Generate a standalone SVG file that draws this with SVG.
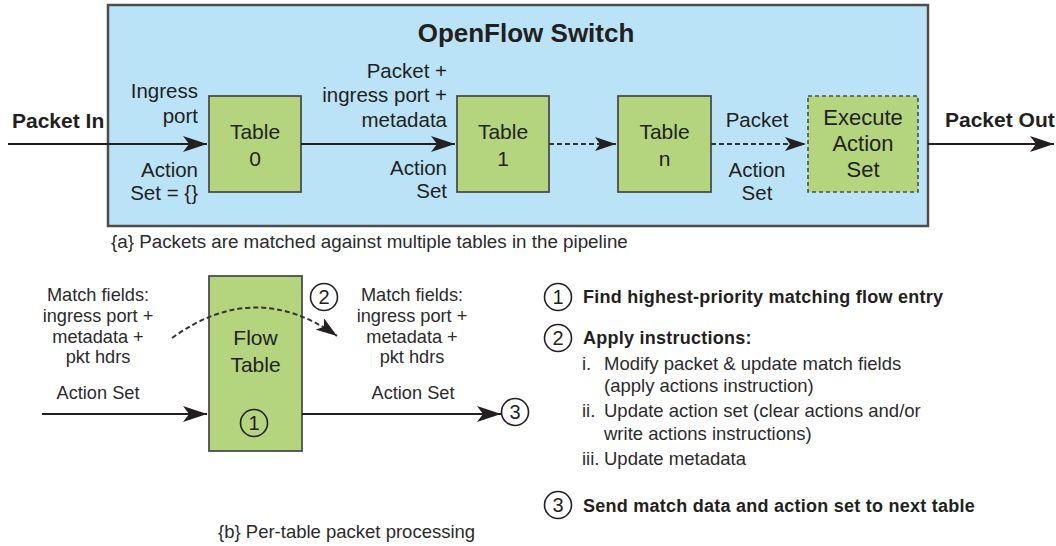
<svg xmlns="http://www.w3.org/2000/svg" width="1056" height="546" viewBox="0 0 1056 546">
  <style>
    text { font-family: "Liberation Sans", Arial, Helvetica, sans-serif; fill: #231f20; }
    .lblr { font-size: 20.5px; text-anchor: end; }
    .lblc { font-size: 20.5px; text-anchor: middle; }
    .big { font-size: 21px; font-weight: bold; }
    .title { font-size: 26px; font-weight: bold; text-anchor: middle; }
    .tbl { font-size: 21px; text-anchor: middle; }
    .cap { font-size: 18.8px; fill: #2b2b2b; }
    .b { font-size: 18.5px; fill: #2b2b2b; }
    .bc { font-size: 18.2px; fill: #2b2b2b; text-anchor: middle; }
    .bold { font-size: 18px; font-weight: bold; fill: #231f20; letter-spacing: 0.25px; }
    .num { font-size: 20px; text-anchor: middle; fill: #231f20; }
    .green { fill: #b4d47d; stroke: #4d4d4d; stroke-width: 1.8; }
    .conn { fill: none; stroke: #231f20; stroke-width: 2.2; }
    .dash { fill: none; stroke: #333; stroke-width: 2; stroke-dasharray: 5 3; }
    .circ { fill: none; stroke: #231f20; stroke-width: 1.6; }
  </style>
  <defs>
    <marker id="ah" markerUnits="userSpaceOnUse" markerWidth="24" markerHeight="16" refX="24" refY="8" orient="auto">
      <path d="M0,0 L24,8 L0,16 L6,8 z" fill="#231f20"/>
    </marker>
    <marker id="ahs" markerUnits="userSpaceOnUse" markerWidth="21" markerHeight="14" refX="21" refY="7" orient="auto">
      <path d="M0,0 L21,7 L0,14 L5,7 z" fill="#231f20"/>
    </marker>
  </defs>

  <g id="switch">
    <rect x="108" y="5" width="820" height="221" fill="#bae3f7" stroke="#4d4d4d" stroke-width="2.5"/>
    <text class="title" x="526" y="42">OpenFlow Switch</text>
  </g>

  <g id="table0">
    <rect class="green" x="209" y="96" width="92" height="96"/>
    <text class="tbl" x="255" y="139">Table</text>
    <text class="tbl" x="255" y="166">0</text>
  </g>
  <g id="table1">
    <rect class="green" x="457" y="96" width="92" height="96"/>
    <text class="tbl" x="503" y="139">Table</text>
    <text class="tbl" x="503" y="166">1</text>
  </g>
  <g id="tablen">
    <rect class="green" x="618" y="96" width="93" height="96"/>
    <text class="tbl" x="664.5" y="139">Table</text>
    <text class="tbl" x="664.5" y="166">n</text>
  </g>
  <g id="execute">
    <rect x="808" y="96" width="110" height="96" fill="#b4d47d" stroke="#4d4d4d" stroke-width="1.6" stroke-dasharray="4 3"/>
    <text class="tbl" x="863" y="125" style="font-size:22px">Execute</text>
    <text class="tbl" x="863" y="151" style="font-size:22px">Action</text>
    <text class="tbl" x="863" y="177" style="font-size:22px">Set</text>
  </g>

  <g id="flowtable">
    <rect class="green" x="209" y="276" width="93" height="175"/>
    <text class="tbl" x="255.5" y="345">Flow</text>
    <text class="tbl" x="255.5" y="372">Table</text>
    <circle class="circ" cx="254" cy="423" r="13.5"/>
    <text class="num" x="254" y="430">1</text>
  </g>

  <g id="connectors">
    <line class="conn" x1="8" y1="144" x2="207" y2="144" marker-end="url(#ah)"/>
    <line class="conn" x1="301" y1="144" x2="455" y2="144" marker-end="url(#ah)"/>
    <line class="dash" x1="549" y1="144" x2="616" y2="144" marker-end="url(#ahs)"/>
    <line class="dash" x1="711" y1="144" x2="806" y2="144" marker-end="url(#ahs)"/>
    <line class="conn" x1="928" y1="144" x2="1054" y2="144" marker-end="url(#ah)"/>
    <line class="conn" x1="42" y1="414" x2="207" y2="414" marker-end="url(#ah)"/>
    <line class="conn" x1="302" y1="414" x2="501" y2="414" marker-end="url(#ah)"/>
    <path class="dash" d="M172,338 Q255,278 337,336" marker-end="url(#ahs)"/>
  </g>

  <g id="labels-a">
    <text class="big" x="12" y="128">Packet In</text>
    <text class="big" x="945" y="127">Packet Out</text>
    <text class="lblr" x="198" y="98">Ingress</text>
    <text class="lblr" x="198" y="123">port</text>
    <text class="lblr" x="198" y="177">Action</text>
    <text class="lblr" x="198" y="200">Set = {}</text>
    <text class="lblr" x="447" y="78">Packet +</text>
    <text class="lblr" x="447" y="102">ingress port +</text>
    <text class="lblr" x="447" y="127">metadata</text>
    <text class="lblr" x="447" y="175">Action</text>
    <text class="lblr" x="447" y="198">Set</text>
    <text class="lblc" x="757" y="127">Packet</text>
    <text class="lblc" x="757" y="177">Action</text>
    <text class="lblc" x="757" y="200">Set</text>
    <text class="cap" x="111" y="248">{a} Packets are matched against multiple tables in the pipeline</text>
  </g>

  <g id="labels-b">
    <text class="bc" x="98" y="301">Match fields:</text>
    <text class="bc" x="98" y="322">ingress port +</text>
    <text class="bc" x="98" y="343">metadata +</text>
    <text class="bc" x="98" y="363">pkt hdrs</text>
    <text class="bc" x="98" y="399">Action Set</text>
    <text class="bc" x="412" y="301">Match fields:</text>
    <text class="bc" x="412" y="322">ingress port +</text>
    <text class="bc" x="412" y="343">metadata +</text>
    <text class="bc" x="412" y="363">pkt hdrs</text>
    <text class="bc" x="413" y="399">Action Set</text>
    <circle class="circ" cx="324" cy="297" r="13.5"/>
    <text class="num" x="324" y="304">2</text>
    <circle class="circ" cx="515" cy="412" r="13.5"/>
    <text class="num" x="515" y="419">3</text>
    <text class="cap" x="218" y="538" style="font-size:18.5px">{b} Per-table packet processing</text>
  </g>

  <g id="legend">
    <circle class="circ" cx="558" cy="297" r="13.5"/>
    <text class="num" x="558" y="304">1</text>
    <text class="bold" x="583" y="303">Find highest-priority matching flow entry</text>
    <circle class="circ" cx="558" cy="338" r="13.5"/>
    <text class="num" x="558" y="345">2</text>
    <text class="bold" x="583" y="344">Apply instructions:</text>
    <text class="b" x="582" y="370">i.</text>
    <text class="b" x="604" y="370">Modify packet &amp; update match fields</text>
    <text class="b" x="604" y="392">(apply actions instruction)</text>
    <text class="b" x="582" y="417">ii.</text>
    <text class="b" x="604" y="417">Update action set (clear actions and/or</text>
    <text class="b" x="604" y="440">write actions instructions)</text>
    <text class="b" x="582" y="465">iii.</text>
    <text class="b" x="604" y="465">Update metadata</text>
    <circle class="circ" cx="558" cy="505" r="13.5"/>
    <text class="num" x="558" y="512">3</text>
    <text class="bold" x="583" y="512">Send match data and action set to next table</text>
  </g>
</svg>
